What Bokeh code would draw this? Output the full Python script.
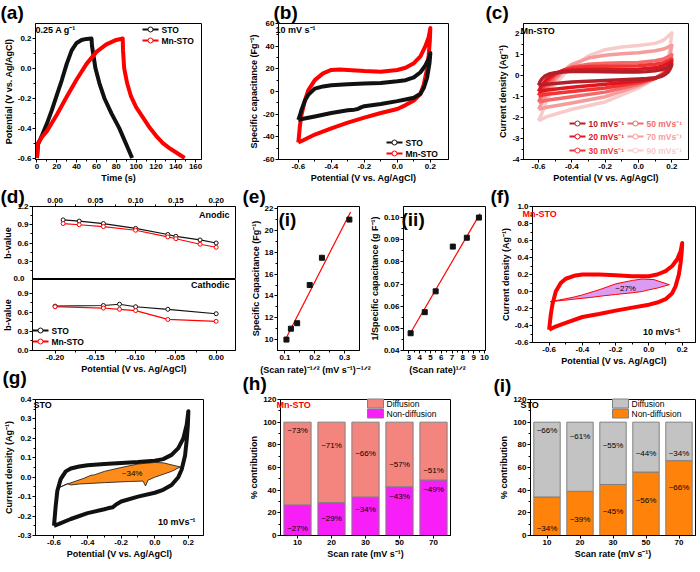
from bokeh.plotting import figure
from bokeh.layouts import row, column
from bokeh.models import (Range1d, FactorRange, FixedTicker, NumeralTickFormatter, GridBox)
from bokeh.embed import file_html
from bokeh.resources import INLINE
from bokeh.core.properties import value

FONT = "Liberation Sans"
BLACK = "#111111"
RED = "#FF0000"

# ---------------- data ----------------
# (a) charge-discharge at 0.25 A/g
gcd_sto_t = [0, 1, 5, 10, 15, 20, 25, 30, 35, 40, 45, 50, 55, 55.5, 59, 63, 68, 75, 83, 89.5, 96]
gcd_sto_v = [-0.6, -0.51, -0.45, -0.37, -0.28, -0.18, -0.08, 0.03, 0.12, 0.17, 0.19, 0.197, 0.2,
             0.15, 0.0, -0.1, -0.2, -0.3, -0.4, -0.5, -0.6]
gcd_mn_t = [0, 1, 5, 10, 20, 30, 40, 50, 60, 70, 80, 86.5, 86.8, 88, 91, 95, 100, 107, 114, 120,
            127, 135, 142, 149]
gcd_mn_v = [-0.6, -0.5, -0.46, -0.42, -0.31, -0.19, -0.075, 0.03, 0.11, 0.16, 0.19, 0.2, 0.12, 0.0,
            -0.1, -0.19, -0.26, -0.33, -0.4, -0.45, -0.5, -0.54, -0.57, -0.6]

# (b) CV at 10 mV/s, specific capacitance
cv_sto_x = [-0.6, -0.59, -0.58, -0.56, -0.54, -0.5, -0.45, -0.4, -0.3, -0.2, -0.1, 0.0, 0.05, 0.1,
            0.14, 0.17, 0.19, 0.2, 0.195, 0.18, 0.16, 0.14, 0.1, 0.05, 0.0, -0.1, -0.2, -0.22,
            -0.24, -0.26, -0.3, -0.4, -0.5, -0.57, -0.6]
cv_sto_c = [-25, -21, -16, -8, -3, 2.5, 4.5, 5.5, 6.5, 7, 7.5, 9, 10, 12.5, 17, 23, 29, 34, 25, 12,
            3, -2, -5.5, -7, -8.5, -11, -13, -14, -15.5, -16, -16.5, -19, -22, -24, -25]
cv_mn_x = [-0.6, -0.595, -0.59, -0.58, -0.56, -0.54, -0.5, -0.45, -0.4, -0.35, -0.3, -0.2, -0.1,
           0.0, 0.05, 0.1, 0.14, 0.17, 0.19, 0.2, 0.197, 0.19, 0.18, 0.16, 0.14, 0.1, 0.05, 0.0,
           -0.1, -0.2, -0.3, -0.4, -0.5, -0.57, -0.6]
cv_mn_c = [-45, -38, -30, -20, -8, 1, 10, 16, 19, 19.5, 19, 18, 17.5, 19, 21, 25, 31, 40, 48, 56,
           45, 32, 20, 6, -2, -8, -12, -15.5, -19, -23, -27.5, -32.5, -38, -43, -45]

# (c)/(f) Mn-STO CV current density at various scan rates
cv10_x = [-0.6, -0.595, -0.59, -0.58, -0.56, -0.53, -0.5, -0.45, -0.4, -0.3, -0.2, -0.1, 0.0,
          0.05, 0.1, 0.14, 0.17, 0.19, 0.2, 0.197, 0.19, 0.18, 0.16, 0.14, 0.1, 0.05, 0.0, -0.1,
          -0.2, -0.3, -0.4, -0.5, -0.57, -0.6]
cv10_j = [-0.45, -0.36, -0.27, -0.15, 0.0, 0.1, 0.15, 0.185, 0.2, 0.2, 0.19, 0.18, 0.18, 0.2,
          0.24, 0.3, 0.38, 0.47, 0.57, 0.46, 0.33, 0.2, 0.06, -0.02, -0.09, -0.13, -0.155, -0.19,
          -0.225, -0.265, -0.3, -0.37, -0.42, -0.45]
cv_rate_x = [-0.6, -0.58, -0.55, -0.5, -0.45, -0.4, -0.3, -0.2, -0.1, 0.0, 0.1, 0.15, 0.2, 0.18,
             0.15, 0.1, 0.0, -0.2, -0.4, -0.55, -0.6]
cv20_j = [-0.75, -0.45, -0.15, 0.12, 0.24, 0.28, 0.3, 0.3, 0.3, 0.31, 0.38, 0.48, 0.7, 0.3, 0.05,
          -0.12, -0.25, -0.4, -0.55, -0.68, -0.75]
cv30_j = [-0.95, -0.65, -0.3, 0.08, 0.28, 0.38, 0.44, 0.46, 0.47, 0.48, 0.55, 0.63, 0.8, 0.35,
          0.08, -0.12, -0.32, -0.58, -0.75, -0.88, -0.95]
cv50_j = [-1.25, -0.95, -0.55, -0.05, 0.25, 0.42, 0.55, 0.6, 0.62, 0.64, 0.72, 0.8, 1.0, 0.45,
          0.1, -0.12, -0.4, -0.78, -1.0, -1.17, -1.25]
cv70_j = [-1.6, -1.3, -0.85, -0.2, 0.25, 0.55, 0.85, 0.98, 1.05, 1.1, 1.2, 1.28, 1.45, 0.6, 0.15,
          -0.12, -0.48, -1.0, -1.3, -1.5, -1.6]
cv90_j = [-2.15, -1.8, -1.15, -0.4, 0.05, 0.4, 0.95, 1.25, 1.38, 1.45, 1.55, 1.7, 2.05, 0.8, 0.2,
          -0.12, -0.58, -1.25, -1.6, -1.95, -2.15]
scan_rates_c = ["10", "20", "30", "50", "70", "90"]
colors_c = ["#B3202A", "#E0161E", "#F23434", "#F36A6A", "#F59C9C", "#F8CACA"]

# (d) b-values
b_anodic_x = [0.01, 0.03, 0.06, 0.10, 0.14, 0.15, 0.18, 0.20]
b_anodic_sto = [0.98, 0.96, 0.92, 0.84, 0.74, 0.71, 0.65, 0.60]
b_anodic_mn = [0.92, 0.90, 0.87, 0.81, 0.70, 0.67, 0.58, 0.53]
b_cathodic_x = [-0.20, -0.14, -0.12, -0.10, -0.06, 0.0]
b_cathodic_sto = [0.70, 0.71, 0.73, 0.69, 0.65, 0.58]
b_cathodic_mn = [0.69, 0.67, 0.65, 0.63, 0.49, 0.46]

# (e) Trasatti analysis
sr_inv_sqrt = [0.105, 0.120, 0.141, 0.183, 0.224, 0.316]
cs_i = [10.0, 11.0, 11.5, 15.0, 17.5, 21.0]
fit_i_x = [0.105, 0.32]
fit_i_y = [10.2, 21.7]
sr_sqrt = [3.16, 4.47, 5.48, 7.07, 8.37, 9.49]
inv_cs = [0.0478, 0.0573, 0.0667, 0.0869, 0.0909, 0.100]
fit_ii_x = [3.16, 9.6]
fit_ii_y = [0.048, 0.1018]

# (f) capacitive area, Mn-STO 10 mV/s
f_cap_x = [-0.594, -0.5, -0.45, -0.4, -0.3, -0.27, -0.2, -0.1, -0.04, 0.03, 0.123, 0.05, 0.0,
           -0.04, -0.1, -0.2, -0.27, -0.35, -0.45, -0.52]
f_cap_j = [-0.12, -0.085, -0.065, -0.04, 0.02, 0.04, 0.09, 0.13, 0.147, 0.14, 0.08, 0.04, 0.02,
           0.0, -0.015, -0.035, -0.05, -0.07, -0.09, -0.105]

# (g) STO 10 mV/s
cv_sto10_x = [-0.6, -0.595, -0.59, -0.58, -0.56, -0.53, -0.5, -0.45, -0.4, -0.3, -0.2, -0.1, 0.0,
              0.05, 0.1, 0.14, 0.17, 0.19, 0.2, 0.197, 0.19, 0.18, 0.16, 0.14, 0.1, 0.05, 0.0,
              -0.1, -0.2, -0.23, -0.25, -0.28, -0.3, -0.4, -0.5, -0.57, -0.6]
cv_sto10_j = [-0.25, -0.2, -0.15, -0.07, -0.01, 0.03, 0.045, 0.055, 0.062, 0.068, 0.073, 0.078,
              0.085, 0.093, 0.115, 0.15, 0.2, 0.27, 0.34, 0.27, 0.19, 0.11, 0.04, 0.0, -0.04,
              -0.065, -0.08, -0.1, -0.125, -0.14, -0.155, -0.16, -0.165, -0.185, -0.215, -0.24,
              -0.25]
g_cap_x = [-0.577, -0.52, -0.47, -0.42, -0.38, -0.36, -0.3, -0.2, -0.1, 0.0, 0.05, 0.152, 0.1,
           0.05, 0.0, -0.04, -0.055, -0.07, -0.15, -0.3, -0.45, -0.5, -0.52, -0.55]
g_cap_j = [-0.056, -0.035, -0.02, -0.005, 0.01, 0.012, 0.03, 0.05, 0.068, 0.076, 0.074, 0.053,
           0.03, 0.015, 0.0, -0.015, -0.045, -0.02, -0.022, -0.028, -0.035, -0.04, -0.033, -0.045]

# (h), (i) contributions
cats = ["10", "20", "30", "50", "70"]
mn_nondiff = [27, 29, 34, 43, 49]
mn_diff = [73, 71, 66, 57, 51]
sto_nondiff = [34, 39, 45, 56, 66]
sto_diff = [66, 61, 55, 44, 34]
mn_diff_label_y = [93, 79, 72, 63, 57]
mn_nondiff_label_y = [6, 15, 23, 34, 41]
sto_diff_label_y = [93, 87, 79, 72, 72]
sto_nondiff_label_y = [6, 14, 21, 30.5, 42]

# ticks
ticks_time = [0, 20, 40, 60, 80, 100, 120, 140, 160]
ticks_pot = [-0.6, -0.4, -0.2, 0.0, 0.2]
ticks_cs = [-60, -40, -20, 0, 20, 40, 60]
ticks_jc = [-4, -3, -2, -1, 0, 1, 2]
ticks_b_top = [0.0, 0.3, 0.6, 0.9, 1.2]
ticks_b_bot = [0.0, 0.3, 0.6, 0.9]
ticks_d_x = [-0.20, -0.15, -0.10, -0.05, 0.00]
ticks_d_top = [0.00, 0.05, 0.10, 0.15, 0.20]
ticks_ei_x = [0.1, 0.2, 0.3]
ticks_ei_y = [10, 12, 14, 16, 18, 20, 22]
ticks_eii_x = [3, 4, 5, 6, 7, 8, 9, 10]
ticks_eii_y = [0.04, 0.05, 0.06, 0.07, 0.08, 0.09, 0.10]
ticks_jf = [-0.6, -0.4, -0.2, 0.0, 0.2, 0.4, 0.6, 0.8, 1.0]
ticks_jg = [-0.3, -0.2, -0.1, 0.0, 0.1, 0.2, 0.3, 0.4]
ticks_pct = [0, 20, 40, 60, 80, 100, 120]

POT_LABEL = "Potential (V vs. Ag/AgCl)"
J_LABEL = "Current density (Ag\u207b\u00b9)"
SUP_M1 = "\u207b\u00b9"


# ---------------- helpers ----------------
def mid(t):
    return [(a + b) / 2 for a, b in zip(t[:-1], t[1:])]


def style_axis(ax):
    ax.axis_line_color = "black"
    ax.major_tick_in = 0
    ax.major_tick_out = 3
    ax.minor_tick_in = 0
    ax.minor_tick_out = 2
    ax.major_tick_line_color = "black"
    ax.minor_tick_line_color = "black"
    ax.major_label_text_font = FONT
    ax.major_label_text_font_style = "bold"
    ax.major_label_text_font_size = "8px"
    ax.major_label_text_color = "black"
    ax.axis_label_text_font = FONT
    ax.axis_label_text_font_style = "bold"
    ax.axis_label_text_font_size = "9px"
    ax.axis_label_text_color = "black"
    ax.major_label_standoff = 1
    ax.axis_label_standoff = 1


def set_ticks(ax, major, fmt):
    ax.ticker = FixedTicker(ticks=major, minor_ticks=mid(major))
    ax.formatter = NumeralTickFormatter(format=fmt)


def mkfig(fw, fh, L, R, T, B, xr, yr, **kw):
    p = figure(frame_width=fw, frame_height=fh, x_range=xr, y_range=yr, output_backend="svg",
               toolbar_location=None, min_border_left=L, min_border_right=R,
               min_border_top=T, min_border_bottom=B, **kw)
    p.grid.visible = False
    p.outline_line_color = "black"
    p.outline_line_alpha = 1.0
    p.outline_line_width = 1
    p.border_fill_color = "white"
    p.background_fill_color = "white"
    for ax in p.axis:
        style_axis(ax)
    return p


# overlay figure in page pixel coordinates (y downwards) for letters, notes and legends
W, H = 684, 556
ov = figure(width=W, height=H, x_range=Range1d(0, W), y_range=Range1d(H, 0),
            x_axis_type=None, y_axis_type=None, output_backend="svg", toolbar_location=None,
            min_border_left=0, min_border_right=0, min_border_top=0, min_border_bottom=0)
ov.grid.visible = False
ov.outline_line_color = None
ov.background_fill_alpha = 0
ov.border_fill_alpha = 0


def ov_text(x, y, s, size="9px", color="black", bold=True, align="left", baseline="middle"):
    ov.text(x=[x], y=[y], text=[s], text_font=value(FONT), text_font_size=size,
            text_color=color, text_font_style="bold" if bold else "normal",
            text_align=align, text_baseline=baseline)


def ov_letter(x, y, s):
    ov_text(x, y, s, size="19px", baseline="top")


def ov_line_item(x, y, color, label, text_color="black"):
    ov.segment(x0=[x], y0=[y], x1=[x + 16], y1=[y], line_color=color, line_width=2)
    ov.scatter(x=[x + 8], y=[y], marker="circle", size=5, fill_color="white", line_color=color)
    ov_text(x + 19, y, label, size="8.5px", color=text_color)


def ov_box_item(x, y, color, label):
    ov.quad(left=[x], right=[x + 16], top=[y - 4.5], bottom=[y + 4.5], fill_color=color,
            line_color="#808080", line_width=1)
    ov_text(x + 19, y, label, size="8.5px", bold=False)


# ---------------- (a) ----------------
pa = mkfig(166, 136, 30, 44, 23, 25, Range1d(-1.5, 166), Range1d(-0.61, 0.3))
set_ticks(pa.xaxis[0], ticks_time, "0")
set_ticks(pa.yaxis[0], ticks_pot, "0.0")
pa.xaxis.axis_label = "Time (s)"
pa.yaxis.axis_label = POT_LABEL
pa.line(gcd_sto_t, gcd_sto_v, line_color=BLACK, line_width=4, line_join="round")
pa.line(gcd_mn_t, gcd_mn_v, line_color=RED, line_width=4, line_join="round")
ov_letter(0, 1, "(a)")
ov_text(35, 29, "0.25 A g" + SUP_M1)
ov_line_item(142, 29, BLACK, "STO")
ov_line_item(142, 40, RED, "Mn-STO")

# ---------------- (b) ----------------
pb = mkfig(170, 136, 32, 46, 23, 25, Range1d(-0.72, 0.31), Range1d(-60, 60))
set_ticks(pb.xaxis[0], ticks_pot, "0.0")
set_ticks(pb.yaxis[0], ticks_cs, "0")
pb.xaxis.axis_label = POT_LABEL
pb.yaxis.axis_label = "Specific capacitance (Fg" + SUP_M1 + ")"
pb.line(cv_mn_x, cv_mn_c, line_color=RED, line_width=4, line_join="round")
pb.line(cv_sto_x, cv_sto_c, line_color=BLACK, line_width=4, line_join="round")
ov_letter(273, 1, "(b)")
ov_text(275, 29, "10 mV s" + SUP_M1)
ov_line_item(386, 142, BLACK, "STO")
ov_line_item(386, 153, RED, "Mn-STO")

# ---------------- (c) ----------------
pc = mkfig(165, 136, 29, 2, 23, 25, Range1d(-0.69, 0.3), Range1d(-4, 2.5))
set_ticks(pc.xaxis[0], ticks_pot, "0.0")
set_ticks(pc.yaxis[0], ticks_jc, "0")
pc.xaxis.axis_label = POT_LABEL
pc.yaxis.axis_label = J_LABEL
c_curves = [(cv10_x, cv10_j), (cv_rate_x, cv20_j), (cv_rate_x, cv30_j), (cv_rate_x, cv50_j),
            (cv_rate_x, cv70_j), (cv_rate_x, cv90_j)]
for (xs, ys), col in reversed(list(zip(c_curves, colors_c))):
    pc.line(xs, ys, line_color=col, line_width=3.5, line_join="round")
ov_letter(485, 1, "(c)")
ov_text(520, 30, "Mn-STO")
c_leg_pos = [(569, 123), (569, 136), (569, 150), (627, 123), (627, 136), (627, 150)]
for rate, col, (lx, ly) in zip(scan_rates_c, colors_c, c_leg_pos):
    ov_line_item(lx, ly, col, rate + " mVs" + SUP_M1, text_color=col)

# ---------------- (d) ----------------
pdt = mkfig(203, 73, 28, 9, 21, 0, Range1d(-0.028, 0.224), Range1d(0, 1.2),
            x_axis_location="above")
set_ticks(pdt.xaxis[0], ticks_d_top, "0.00")
set_ticks(pdt.yaxis[0], ticks_b_top, "0.0")
pdt.yaxis[0].major_label_overrides = {0: ""}
pdt.yaxis.axis_label = "b-value"
pdt.line(b_anodic_x, b_anodic_sto, line_color=BLACK, line_width=1.2)
pdt.scatter(b_anodic_x, b_anodic_sto, marker="circle", size=4, fill_color="white", line_color=BLACK)
pdt.line(b_anodic_x, b_anodic_mn, line_color=RED, line_width=1.2)
pdt.scatter(b_anodic_x, b_anodic_mn, marker="circle", size=4, fill_color="white", line_color=RED)

pdb = mkfig(203, 71, 28, 9, 0, 24, Range1d(-0.228, 0.024), Range1d(0, 1.12))
set_ticks(pdb.xaxis[0], ticks_d_x, "0.00")
set_ticks(pdb.yaxis[0], ticks_b_bot, "0.0")
pdb.xaxis.axis_label = POT_LABEL
pdb.yaxis.axis_label = "b-value"
pdb.line(b_cathodic_x, b_cathodic_sto, line_color=BLACK, line_width=1.2)
pdb.scatter(b_cathodic_x, b_cathodic_sto, marker="circle", size=4, fill_color="white", line_color=BLACK)
pdb.line(b_cathodic_x, b_cathodic_mn, line_color=RED, line_width=1.2)
pdb.scatter(b_cathodic_x, b_cathodic_mn, marker="circle", size=4, fill_color="white", line_color=RED)
ov_letter(0, 185, "(d)")
ov_text(24, 278, "0.0", size="8px", align="right")
ov_text(229, 214, "Anodic", align="right")
ov_text(229, 284, "Cathodic", align="right")
ov_line_item(32, 330, BLACK, "STO")
ov_line_item(32, 341, RED, "Mn-STO")

# ---------------- (e) ----------------
pe1 = mkfig(82, 144, 33, 7, 21, 24, Range1d(0.075, 0.35), Range1d(9, 22.2))
set_ticks(pe1.xaxis[0], ticks_ei_x, "0.0")
set_ticks(pe1.yaxis[0], ticks_ei_y, "0")
pe1.yaxis.axis_label = "Specific Capacitance (Fg" + SUP_M1 + ")"
pe1.line(fit_i_x, fit_i_y, line_color=RED, line_width=1.2)
pe1.scatter(sr_inv_sqrt, cs_i, marker="square", size=5, color=BLACK)

pe2 = mkfig(82, 144, 34, 12, 21, 24, Range1d(2.5, 10.1), Range1d(0.04, 0.105))
set_ticks(pe2.xaxis[0], ticks_eii_x, "0")
set_ticks(pe2.yaxis[0], ticks_eii_y, "0.00")
pe2.yaxis.axis_label = "1/Specific capacitance (g F" + SUP_M1 + ")"
pe2.line(fit_ii_x, fit_ii_y, line_color=RED, line_width=1.2)
pe2.scatter(sr_sqrt, inv_cs, marker="square", size=5, color=BLACK)
ov_letter(242, 185, "(e)")
ov_letter(278, 208, "(i)")
ov_letter(401, 208, "(ii)")
ov_text(314, 369, "(Scan rate)\u207b\u00b9\u141f\u00b2 (mV s" + SUP_M1 + ")\u207b\u00b9\u141f\u00b2",
        align="center")
ov_text(437, 369, "(Scan rate)\u00b9\u141f\u00b2", align="center")

# ---------------- (f) ----------------
pf = mkfig(163, 136, 29, 2, 21, 32, Range1d(-0.7, 0.28), Range1d(-0.6, 1.0))
set_ticks(pf.xaxis[0], ticks_pot, "0.0")
set_ticks(pf.yaxis[0], ticks_jf, "0.0")
pf.xaxis.axis_label = POT_LABEL
pf.yaxis.axis_label = J_LABEL
pf.line(cv10_x, cv10_j, line_color=RED, line_width=4, line_join="round")
pf.patch(f_cap_x, f_cap_j, fill_color="#DC9BF2", line_color=RED, line_width=1)
pf.text(x=[-0.14], y=[0.04], text=["~27%"], text_font=value(FONT), text_font_size="8px",
        text_align="center", text_baseline="middle")
ov_letter(490, 185, "(f)")
ov_text(522, 213, "Mn-STO", color=RED)
ov_text(680, 331, "10 mVs" + SUP_M1, align="right")

# ---------------- (g) ----------------
pg = mkfig(168, 136, 29, 43, 23, 24, Range1d(-0.71, 0.29), Range1d(-0.3, 0.4))
set_ticks(pg.xaxis[0], ticks_pot, "0.0")
set_ticks(pg.yaxis[0], ticks_jg, "0.0")
pg.xaxis.axis_label = POT_LABEL
pg.yaxis.axis_label = J_LABEL
pg.line(cv_sto10_x, cv_sto10_j, line_color=BLACK, line_width=4, line_join="round")
pg.patch(g_cap_x, g_cap_j, fill_color="#FF8C1A", line_color=BLACK, line_width=0.8)
pg.text(x=[-0.135], y=[0.02], text=["~34%"], text_font=value(FONT), text_font_size="8px",
        text_align="center", text_baseline="middle")
ov_letter(2, 366, "(g)")
ov_text(33, 404, "STO")
ov_text(195, 521, "10 mVs" + SUP_M1, align="right")


# ---------------- (h), (i) ----------------
def bar_panel(nd, d, c_nd, c_d, ly_d, ly_nd, L, R, fw):
    p = mkfig(fw, 136, L, R, 23, 24, FactorRange(factors=cats), Range1d(0, 120))
    set_ticks(p.yaxis[0], ticks_pct, "0")
    p.xaxis.axis_label = "Scan rate (mV s" + SUP_M1 + ")"
    p.yaxis.axis_label = "% contribution"
    tops = [a + b for a, b in zip(nd, d)]
    p.vbar(x=cats, top=nd, bottom=0, width=0.8, fill_color=c_nd, line_color="#808080",
           line_width=1)
    p.vbar(x=cats, top=tops, bottom=nd, width=0.8, fill_color=c_d, line_color="#808080",
           line_width=1)
    p.text(x=cats, y=ly_d, text=["~%d%%" % v for v in d], text_font=value(FONT),
           text_font_size="8px", text_align="center", text_baseline="middle")
    p.text(x=cats, y=ly_nd, text=["~%d%%" % v for v in nd], text_font=value(FONT),
           text_font_size="8px", text_align="center", text_baseline="middle")
    return p


C_MN_ND, C_MN_D = "#F81EF8", "#F4847E"
C_STO_ND, C_STO_D = "#FF820A", "#C3C3C3"
ph = bar_panel(mn_nondiff, mn_diff, C_MN_ND, C_MN_D, mn_diff_label_y, mn_nondiff_label_y,
               32, 46, 170)
pi = bar_panel(sto_nondiff, sto_diff, C_STO_ND, C_STO_D, sto_diff_label_y, sto_nondiff_label_y,
               29, 2, 165)
ov_letter(242, 372, "(h)")
ov_text(276, 404, "Mn-STO", color=RED)
ov_box_item(367, 403, C_MN_D, "Diffusion")
ov_box_item(367, 413, C_MN_ND, "Non-diffusion")
ov_letter(493, 374, "(i)")
ov_text(520, 404, "STO")
ov_box_item(612, 403, C_STO_D, "Diffusion")
ov_box_item(612, 413, C_STO_ND, "Non-diffusion")

main = column(
    row(pa, pb, pc),
    row(column(pdt, pdb), pe1, pe2, pf),
    row(pg, ph, pi),
)
root = GridBox(children=[(main, 0, 0), (ov, 0, 0)])
open("out.html", "w").write(file_html(root, INLINE, title="chart"))
